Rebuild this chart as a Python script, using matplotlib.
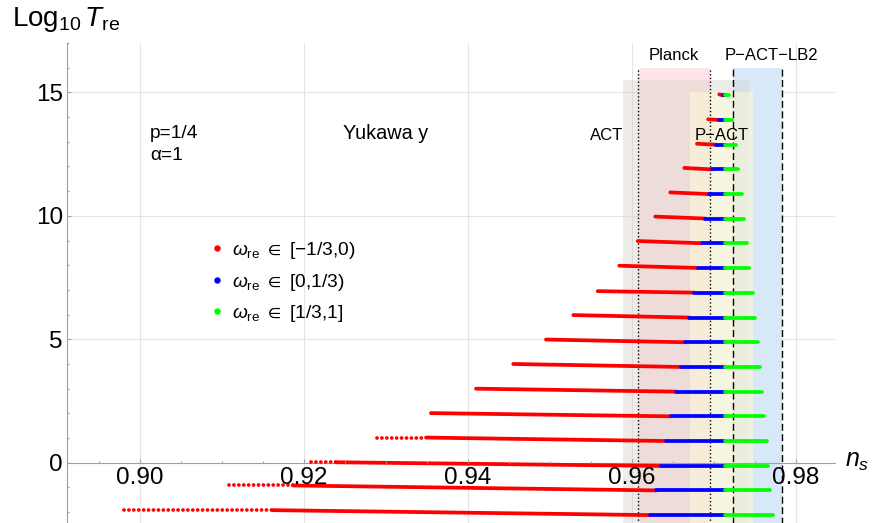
import matplotlib
matplotlib.use('Agg')
import matplotlib.pyplot as plt
from matplotlib.lines import Line2D

plt.rcParams['font.family'] = ['Liberation Sans', 'DejaVu Sans']
plt.rcParams['mathtext.fontset'] = 'custom'
plt.rcParams['mathtext.rm'] = 'Liberation Sans'
plt.rcParams['mathtext.it'] = 'Liberation Sans:italic'
plt.rcParams['mathtext.fallback'] = 'stixsans'

W, H = 877, 523

# one scan row per reheating level, top to bottom
levels = [15, 14, 13, 12, 11, 10, 9, 8, 7, 6, 5, 4, 3, 2, 1, 0, -1, -2]
y_left = [14.92, 13.91, 12.92, 11.94, 10.95, 9.97, 8.98, 7.98, 6.95,
          5.98, 4.99, 4.00, 3.00, 2.01, 1.02, 0.02, -0.92, -1.92]
y_right = [14.88, 13.88, 12.88, 11.88, 10.88, 9.89, 8.89, 7.89, 6.89,
           5.88, 4.88, 3.88, 2.88, 1.88, 0.88, -0.13, -1.12, -2.12]

# n_s where w_re = -1/3 (row start), 0 (red -> blue), 1 (row end)
ns_red_start = [0.97065, 0.96930, 0.96793, 0.96638, 0.96467, 0.96284,
                0.96070, 0.95845, 0.95582, 0.95284, 0.94951, 0.94552,
                0.94098, 0.93549, 0.92890, 0.92085, 0.91089, 0.89801]
# sparse sampling at the far left of the lowest rows
ns_red_dotted_end = [None] * 14 + [0.93488, 0.92390, 0.91866, 0.91618]
ns_blue_start = [0.97106, 0.97065, 0.97024, 0.96976, 0.96943, 0.96894,
                 0.96854, 0.96801, 0.96760, 0.96699, 0.96646, 0.96598,
                 0.96537, 0.96476, 0.96415, 0.96354, 0.96293, 0.96223]
ns_green_start = 0.9713  # w_re = 1/3, same for every row
ns_green_end = [0.97187, 0.97220, 0.97268, 0.97296, 0.97338, 0.97370,
                0.97399, 0.97430, 0.97472, 0.97500, 0.97533, 0.97561,
                0.97582, 0.97613, 0.97643, 0.97655, 0.97687, 0.97723]

# observational n_s windows
band_names = ['Planck', 'P-ACT-LB2', 'ACT', 'P-ACT']
band_lo = [0.96070, 0.97228, 0.95890, 0.96707]
band_hi = [0.96955, 0.97826, 0.97427, 0.97472]
band_top = [16.0, 16.0, 15.5, 15.0]
band_color = ['#FFE4E8', '#D9E8F8', '#D6D0C8', '#FFFFD6']
band_alpha = [1.0, 1.0, 0.4, 0.5]

fig = plt.figure(figsize=(W / 100, H / 100), dpi=100)
ax = fig.add_axes([67 / W, 0, 768 / W, 480 / H])
ax.set_xlim(0.8911, 0.98476)
ax.set_ylim(-2.44, 17.0)

# light grid underneath everything
for gx in [0.90, 0.92, 0.94, 0.96, 0.98]:
    ax.axvline(gx, color='#E4E4E4', lw=0.8, zorder=0)
for gy in [5, 10, 15]:
    ax.axhline(gy, color='#E4E4E4', lw=0.8, zorder=0)

for i in range(len(band_names)):
    ax.fill_between([band_lo[i], band_hi[i]], -5, band_top[i],
                    color=band_color[i], alpha=band_alpha[i], lw=0,
                    zorder=1 + 0.1 * i)

ax.vlines([band_lo[0], band_hi[0]], -5, band_top[0], colors='black',
          linestyles=':', lw=1.0, zorder=3)
ax.vlines([band_lo[1], band_hi[1]], -5, band_top[1], colors='black',
          linestyles=(0, (5, 2.5)), lw=1.0, zorder=3)

lw = 2.7
for i in range(len(levels)):
    x0 = ns_red_start[i]
    if ns_red_dotted_end[i] is not None:
        ax.plot([x0, ns_red_dotted_end[i]], [y_left[i], y_left[i]],
                color='red', lw=lw, linestyle=(0, (0.01, 1.3)),
                dash_capstyle='round', zorder=4)
        x0 = ns_red_dotted_end[i]
    ax.plot([x0, ns_blue_start[i]], [y_left[i], y_right[i]], color='red',
            lw=lw, solid_capstyle='round', zorder=4)
    ax.plot([ns_blue_start[i], ns_green_start], [y_right[i], y_right[i]],
            color='blue', lw=lw, solid_capstyle='round', zorder=4)
    ax.plot([ns_green_start, ns_green_end[i]], [y_right[i], y_right[i]],
            color='#00FF00', lw=lw, solid_capstyle='round', zorder=4)

# axes drawn Mathematica style: x axis through y = 0
for side in ['top', 'right']:
    ax.spines[side].set_visible(False)
ax.spines['bottom'].set_position(('data', 0))
for side in ['left', 'bottom']:
    ax.spines[side].set_color('#A0A0A0')
    ax.spines[side].set_linewidth(0.8)
    ax.spines[side].set_zorder(2)

ax.set_xticks([0.90, 0.92, 0.94, 0.96, 0.98])
ax.set_xticklabels(['0.90', '0.92', '0.94', '0.96', '0.98'])
ax.set_xticks([0.895 + 0.005 * k for k in range(18)], minor=True)
ax.set_yticks([0, 5, 10, 15])
ax.set_yticklabels(['0', '5', '10', '15'])
ax.set_yticks([v for v in range(-2, 18)], minor=True)
ax.tick_params(which='both', direction='in', color='#A0A0A0', width=0.8,
               labelsize=17.5, pad=3)
ax.tick_params(which='major', length=3)
ax.tick_params(which='minor', length=1.6)
ax.xaxis.set_zorder(5)

fig.text(12 / W, 1 - 26 / H, r'$\mathrm{Log}_{10}\,T_{\mathrm{re}}$',
         fontsize=20, va='baseline', ha='left')
fig.text(845 / W, 1 - 467 / H, r'$n_s$', fontsize=18, va='baseline',
         ha='left')

ax.text(0.9012, 13.15, 'p=1/4', fontsize=13.8, va='baseline')
ax.text(0.9012, 12.26, '\u03b1=1', fontsize=13.8, va='baseline')
ax.text(0.9300, 13.10, 'Yukawa y', fontsize=14.3, va='baseline', ha='center')
ax.text(band_lo[2], 13.07, 'ACT', fontsize=12, va='baseline', ha='right')
ax.text((band_lo[3] + band_hi[3]) / 2, 13.07, 'P\u2212ACT', fontsize=12,
        va='baseline', ha='center', zorder=6)
ax.text((band_lo[0] + band_hi[0]) / 2, 16.31, 'Planck', fontsize=12,
        va='baseline', ha='center')
ax.text(0.97695, 16.31, 'P\u2212ACT\u2212LB2', fontsize=12,
        va='baseline', ha='center')

handles = [Line2D([], [], marker='o', ls='none', color=c, markersize=3.6)
           for c in ['red', 'blue', '#00FF00']]
labels = ['$\\omega_{\\mathrm{re}}$ $\\in$ [\u22121/3,0)',
          '$\\omega_{\\mathrm{re}}$ $\\in$ [0,1/3)',
          '$\\omega_{\\mathrm{re}}$ $\\in$ [1/3,1]']
ax.legend(handles, labels, loc='upper left', frameon=False, fontsize=13.8,
          bbox_to_anchor=(212 / W, 1 - 240 / H),
          bbox_transform=fig.transFigure, borderpad=0, borderaxespad=0,
          handlelength=0.55, handletextpad=0.5, labelspacing=0.55)

fig.savefig('out.png', dpi=100)
